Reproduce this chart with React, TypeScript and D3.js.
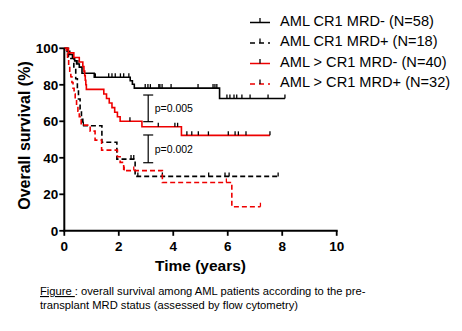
import React from "react";
import * as d3 from "d3";

const xTicks = [0, 2, 4, 6, 8, 10];
const yTicks = [0, 20, 40, 60, 80, 100];

const seriesNames = [
  "AML CR1 MRD- (N=58)",
  "AML CR1 MRD+ (N=18)",
  "AML > CR1 MRD- (N=40)",
  "AML > CR1 MRD+ (N=32)",
];
const seriesColors = ["#000000", "#000000", "#ee0000", "#ee0000"];
const seriesDashed = [false, true, false, true];

// black solid: AML CR1 MRD-
const bsTimes = [0, 0.1, 0.2, 0.3, 0.38, 0.45, 0.55, 0.65, 1.1, 2.42, 2.5, 2.57, 5.7, 8.1];
const bsSurv = [100, 98.3, 96.6, 94.8, 93.1, 91.4, 89.7, 86.3, 84.1, 82.2, 80.3, 78.2, 72.5, 72.5];
const bsCens = [0.5, 1.14, 1.63, 1.75, 1.87, 2.06, 2.18, 2.37, 2.97, 3.07, 3.16, 3.47, 3.51, 3.59, 3.92, 4.91, 5.46, 5.53, 5.6, 5.97, 6.08, 6.23, 6.33, 6.52, 6.82, 7.48, 8.1];

// black dashed: AML CR1 MRD+
const bdTimes = [0, 0.15, 0.35, 0.42, 0.48, 0.52, 0.58, 0.63, 0.68, 1.38, 1.93, 2.6, 7.85];
const bdSurv = [100, 94.4, 88.9, 83.3, 77.8, 72.2, 66.7, 61.1, 57.6, 48.5, 39.3, 29.8, 29.8];
const bdCens = [0.7, 2.45, 2.55, 2.7, 3.6, 5.3, 5.9, 6.05, 7.85];

// red solid: AML > CR1 MRD-
const rsTimes = [0, 0.15, 0.35, 0.55, 0.68, 0.72, 0.75, 0.77, 0.79, 0.81, 1.45, 1.55, 1.65, 1.75, 1.85, 1.95, 2.05, 2.85, 4.3, 7.55];
const rsSurv = [100, 97.5, 95, 92.5, 90, 87.5, 85, 82.5, 80, 77.5, 75, 72.5, 70, 67.5, 65, 62.5, 60, 57, 52.3, 52.3];
const rsCens = [2.41, 3.45, 4.06, 4.16, 4.5, 4.68, 4.92, 5.29, 6.02, 6.27, 6.39, 6.67, 7.55];

// red dashed: AML > CR1 MRD+
const rdTimes = [0, 0.08, 0.12, 0.16, 0.2, 0.24, 0.28, 0.32, 0.36, 0.4, 0.45, 0.5, 0.55, 0.62, 0.95, 1.13, 1.37, 1.95, 2.05, 2.18, 3.6, 6.15, 7.2];
const rdSurv = [100, 96.9, 93.8, 90.6, 87.5, 84.4, 81.3, 78.1, 75, 71.9, 68.8, 65.6, 62.5, 57.9, 54.6, 49.7, 44.2, 40.6, 37.5, 33, 26.5, 13.2, 13.2];
const rdCens = [2.2, 2.55, 5.95, 7.2];

const pLabels = ["p=0.005", "p=0.002"];
const pTime = 3.08;
const pRanges = [
  [59.8, 74.4],
  [37.3, 52.5],
];

const FONT = "Arial, 'Liberation Sans', Helvetica, sans-serif";

export default function App() {
  const W = 462;
  const H = 331;
  const x = d3.scaleLinear().domain([0, 10]).range([64.3, 336.7]);
  const y = d3.scaleLinear().domain([0, 100]).range([230.8, 48.3]);

  const series = [
    { t: bsTimes, s: bsSurv, c: bsCens },
    { t: bdTimes, s: bdSurv, c: bdCens },
    { t: rsTimes, s: rsSurv, c: rsCens },
    { t: rdTimes, s: rdSurv, c: rdCens },
  ];

  const line = d3
    .line<[number, number]>()
    .x((d) => x(d[0]))
    .y((d) => y(d[1]))
    .curve(d3.curveStepAfter);

  const survAt = (ts: number[], ss: number[], t: number) => {
    let v = ss[0];
    for (let i = 0; i < ts.length; i++) if (ts[i] <= t) v = ss[i];
    return v;
  };

  const legendY = [20.5, 41, 61.5, 82];

  return (
    <svg
      width={W}
      height={H}
      style={{ position: "absolute", left: 0, top: 0, background: "#fff" }}
      fontFamily={FONT}
    >
      <rect width={W} height={H} fill="#fff" />
      {/* curves */}
      {series.map((sr, i) => {
        const pts = sr.t.map((t, k) => [t, sr.s[k]] as [number, number]);
        return (
          <g key={i}>
            <path
              d={line(pts) || ""}
              fill="none"
              stroke={seriesColors[i]}
              strokeWidth={1.6}
              strokeDasharray={seriesDashed[i] ? "5,3" : undefined}
            />
            {sr.c.map((ct, k) => {
              const v = survAt(sr.t, sr.s, ct);
              return (
                <line
                  key={k}
                  x1={x(ct)}
                  x2={x(ct)}
                  y1={y(v)}
                  y2={y(v) - 4}
                  stroke={i === 0 || i === 2 ? "#000" : seriesColors[i]}
                  strokeWidth={1.3}
                />
              );
            })}
          </g>
        );
      })}

      {/* p-value brackets */}
      {pRanges.map((r, i) => (
        <g key={i}>
          <line x1={x(pTime)} x2={x(pTime)} y1={y(r[0])} y2={y(r[1])} stroke="#000" strokeWidth={1.2} />
          <line x1={x(pTime) - 5} x2={x(pTime) + 5} y1={y(r[0])} y2={y(r[0])} stroke="#000" strokeWidth={1.2} />
          <line x1={x(pTime) - 5} x2={x(pTime) + 5} y1={y(r[1])} y2={y(r[1])} stroke="#000" strokeWidth={1.2} />
          <text
            x={x(pTime) + 6.5}
            y={y((r[0] + r[1]) / 2)}
            dy="0.35em"
            fontSize={10.5}
            fill="#000"
          >
            {pLabels[i]}
          </text>
        </g>
      ))}

      {/* axes */}
      <line x1={x(0)} x2={x(0)} y1={y(0) + 1} y2={y(100)} stroke="#000" strokeWidth={2} />
      <line x1={x(0) - 1} x2={x(10) + 1} y1={y(0)} y2={y(0)} stroke="#000" strokeWidth={2} />
      {yTicks.map((v) => (
        <g key={v}>
          <line x1={x(0) - 5} x2={x(0)} y1={y(v)} y2={y(v)} stroke="#000" strokeWidth={1.8} />
          <text
            x={x(0) - 6}
            y={y(v)}
            dy="0.36em"
            textAnchor="end"
            fontSize={13.5}
            fontWeight="bold"
          >
            {v}
          </text>
        </g>
      ))}
      {xTicks.map((v) => (
        <g key={v}>
          <line x1={x(v)} x2={x(v)} y1={y(0)} y2={y(0) + 5} stroke="#000" strokeWidth={1.8} />
          <text x={x(v)} y={y(0) + 20} textAnchor="middle" fontSize={13.5} fontWeight="bold">
            {v}
          </text>
        </g>
      ))}
      <text x={x(5)} y={270.5} textAnchor="middle" fontSize={15.5} fontWeight="bold">
        Time (years)
      </text>
      <text
        transform={`translate(29.5,${(y(0) + y(100)) / 2 - 4}) rotate(-90)`}
        textAnchor="middle"
        fontSize={16}
        fontWeight="bold"
      >
        Overall survival (%)
      </text>

      {/* legend */}
      {seriesNames.map((name, i) => {
        const ly = legendY[i];
        return (
          <g key={name}>
            <line
              x1={250}
              x2={270}
              y1={ly + 2}
              y2={ly + 2}
              stroke={seriesColors[i]}
              strokeWidth={1.5}
              strokeDasharray={seriesDashed[i] ? "5,4" : undefined}
            />
            <line x1={260} x2={260} y1={ly + 2} y2={ly - 2.5} stroke="#000" strokeWidth={1.3} />
            <text x={280} y={ly} dy="0.36em" fontSize={14.6}>
              {name}
            </text>
          </g>
        );
      })}

      {/* caption */}
      <text x={40} y={295} fontSize={11.2}>
        <tspan textDecoration="underline">Figure </tspan>
        <tspan>: overall survival among AML patients according to the pre-</tspan>
      </text>
      <text x={40} y={308.5} fontSize={11.2}>
        transplant MRD status (assessed by flow cytometry)
      </text>
    </svg>
  );
}
